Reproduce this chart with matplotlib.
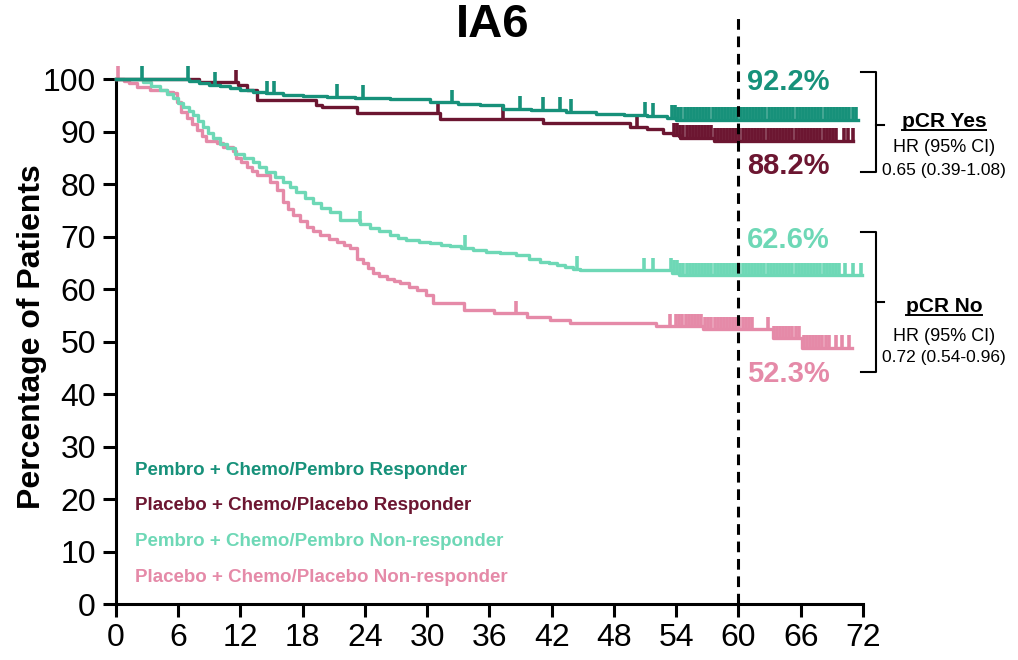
import numpy as np
import matplotlib
matplotlib.use('Agg')
import matplotlib.pyplot as plt
from matplotlib.lines import Line2D

plt.rcParams['font.family'] = ['Liberation Sans', 'DejaVu Sans']

# colours
c_pem_r = '#17917a'
c_pla_r = '#6c1631'
c_pem_n = '#6ed8b6'
c_pla_n = '#e58aa8'

# Pembro + Chemo/Pembro responder (months, % event-free from that month on)
pem_r_t = [0, 7.0, 8.0, 9.0, 10.0, 11.0, 12.0, 13.2, 14.5, 16.1, 18.0, 20.3, 23.0, 26.4,
           30.3, 33.0, 35.1, 37.3, 40.0, 43.4, 46.3, 49.0, 51.2, 53.1, 54.0, 71.5]
pem_r_s = [100, 99.6, 99.2, 98.9, 98.6, 98.3, 98.0, 97.6, 97.3, 97.0, 96.8, 96.6, 96.4, 96.1,
           95.6, 95.3, 95.0, 94.3, 94.1, 93.8, 93.4, 93.2, 93.0, 92.6, 92.2, 92.2]
pem_r_cens = [2.5, 6.9, 9.5, 14.6, 15.2, 21.3, 23.8, 32.4, 38.9, 41.2, 42.8, 43.9, 51.0, 51.8,
              53.6, 53.9, 54.2, 54.5, 54.8, 55.1, 55.4, 55.7, 56.0, 56.3, 56.6, 56.9, 57.2,
              57.5, 57.8, 58.1, 58.4, 58.7, 59.0, 59.3, 59.6, 59.9, 60.2, 60.5, 60.8, 61.1,
              61.4, 61.7, 62.0, 62.3, 62.6, 62.9, 63.2, 63.5, 63.8, 64.1, 64.4, 64.7, 65.0,
              65.3, 65.6, 65.9, 66.2, 66.5, 66.8, 67.1, 67.4, 67.7, 68.0, 68.3, 68.6, 68.9,
              69.2, 69.5, 69.8, 70.1, 70.4, 70.7, 71.0, 71.3]

# Placebo + Chemo/Placebo responder
pla_r_t = [0, 8.0, 11.8, 12.6, 13.6, 19.3, 19.9, 23.2, 31.2, 41.2, 49.5, 51.2, 52.7, 53.7,
           54.4, 57.6, 71.0]
pla_r_s = [100, 99.4, 98.8, 98.0, 96.0, 95.0, 94.7, 93.5, 92.3, 91.7, 90.9, 90.4, 89.8, 89.3,
           88.8, 88.2, 88.2]
pla_r_cens = [11.6, 31.0, 37.3, 50.2,
              53.8, 54.1, 54.4, 54.7, 55.0, 55.3, 55.6, 55.9, 56.2, 56.5, 56.8, 57.1, 57.4,
              57.7, 58.0, 58.3, 58.6, 58.9, 59.2, 59.5, 59.8, 60.1, 60.4, 60.7, 61.0, 61.3,
              61.6, 61.9, 62.2, 62.5, 62.8, 63.1, 63.4, 63.7, 64.0, 64.3, 64.6, 64.9, 65.2,
              65.5, 65.8, 66.1, 66.4, 66.7, 67.0, 67.3, 67.6, 67.9, 68.2, 68.5, 68.8, 69.1,
              69.4, 70.2, 70.6, 71.0]

# Pembro + Chemo/Pembro non-responder
pem_n_t = [0, 2.6, 3.4, 4.2, 4.9, 5.5, 6.0, 6.5, 7.0, 7.4, 7.9, 8.4, 8.9, 9.4, 10.0, 10.7,
           11.5, 12.3, 13.2, 13.8, 14.5, 15.3, 16.1, 16.8, 17.4, 18.2, 19.0, 19.8, 20.6, 21.6,
           23.5, 24.5, 25.4, 26.4, 27.2, 28.0, 29.2, 30.3, 31.3, 32.2, 33.3, 34.4, 35.7, 37.0,
           38.6, 39.8, 40.9, 41.7, 42.5, 43.3, 44.1, 44.7, 53.6, 54.3, 71.9]
pem_n_s = [100, 99.5, 98.7, 97.9, 97.1, 96.3, 95.5, 94.7, 93.9, 93.1, 92.0, 90.9, 89.8, 88.7,
           87.7, 86.8, 85.8, 84.9, 84.2, 83.2, 82.3, 81.3, 80.4, 79.4, 78.5, 77.4, 76.4, 75.5,
           74.7, 73.1, 72.4, 71.6, 71.0, 70.3, 69.8, 69.3, 69.0, 68.7, 68.4, 68.1, 67.8, 67.4,
           67.1, 66.8, 66.5, 65.8, 65.2, 64.9, 64.6, 64.2, 63.9, 63.6, 63.1, 62.6, 62.6]
pem_n_cens = [23.5, 33.6, 44.4, 50.9, 51.8,
              53.5, 53.8, 54.1, 54.4, 54.7, 55.0, 55.3, 55.6, 55.9, 56.2, 56.5, 56.8, 57.1,
              57.4, 57.7, 58.0, 58.3, 58.6, 58.9, 59.2, 59.5, 59.8, 60.1, 60.4, 60.7, 61.0,
              61.3, 61.6, 61.9, 62.2, 62.5, 62.8, 63.1, 63.4, 63.7, 64.0, 64.3, 64.6, 64.9,
              65.2, 65.5, 65.8, 66.1, 66.4, 66.7, 67.0, 67.3, 67.6, 67.9, 68.2, 68.5, 68.8,
              69.1, 69.4, 69.7, 70.3, 71.0, 71.8]

# Placebo + Chemo/Placebo non-responder
pla_n_t = [0, 0.8, 1.3, 2.0, 3.3, 4.9, 5.5, 5.9, 6.3, 6.8, 7.3, 7.8, 8.3, 8.7, 9.7, 10.3,
           11.3, 11.6, 12.1, 12.6, 13.1, 13.6, 14.8, 15.5, 16.1, 16.6, 17.1, 17.7, 18.4, 19.0,
           19.7, 20.5, 21.3, 22.0, 22.6, 23.2, 23.8, 24.3, 24.8, 25.4, 26.1, 26.8, 27.4, 28.2,
           29.0, 29.9, 30.6, 33.5, 36.4, 39.6, 41.8, 43.8, 52.1, 56.6, 63.3, 66.1, 70.9]
pla_n_s = [100, 99.6, 99.2, 98.5, 97.9, 97.6, 97.3, 95.7, 93.8, 92.5, 91.4, 90.3, 89.2, 88.1,
           87.8, 87.1, 86.2, 84.9, 84.1, 83.3, 82.5, 81.7, 80.4, 78.9, 76.6, 75.3, 74.1, 73.0,
           71.9, 71.1, 70.3, 69.6, 69.0, 68.4, 67.8, 65.8, 64.9, 64.0, 63.0, 62.5, 62.0, 61.5,
           61.1, 60.4, 59.8, 58.9, 57.3, 56.0, 55.4, 54.7, 54.1, 53.5, 52.9, 52.3, 50.6, 48.8,
           48.8]
pla_n_cens = [0.2, 38.6, 53.4,
              54.0, 54.3, 54.6, 54.9, 55.2, 55.5, 55.8, 56.1, 56.4,
              56.8, 57.1, 57.4, 57.7, 58.0, 58.3, 58.6, 58.9, 59.2, 59.5, 59.8, 60.1, 60.4,
              60.7, 61.0, 61.3, 62.8,
              63.4, 63.7, 64.0, 64.3, 64.6, 64.9, 65.2, 65.5, 65.8,
              66.3, 66.6, 66.9, 67.2, 67.5, 67.8, 68.1, 68.4, 68.7, 69.4, 70.0, 70.7]

legend_labels = ['Pembro + Chemo/Pembro Responder', 'Placebo + Chemo/Placebo Responder',
                 'Pembro + Chemo/Pembro Non-responder', 'Placebo + Chemo/Placebo Non-responder']
pct_labels = ['92.2%', '88.2%', '62.6%', '52.3%']
x_ticks = list(range(0, 73, 6))
y_ticks = list(range(0, 101, 10))

groups = [
    (pem_r_t, pem_r_s, pem_r_cens, c_pem_r),
    (pla_r_t, pla_r_s, pla_r_cens, c_pla_r),
    (pem_n_t, pem_n_s, pem_n_cens, c_pem_n),
    (pla_n_t, pla_n_s, pla_n_cens, c_pla_n),
]

fig = plt.figure(figsize=(10.18, 6.6), dpi=100)
ax = fig.add_axes([0.1139, 0.0848, 0.7338, 0.7955])

# draw the lighter curves first so the responders sit on top
for t, s, cens, col in groups[::-1]:
    ax.step(t, s, where='post', color=col, lw=2.4, clip_on=False, zorder=3)
    t_arr = np.array(t)
    s_arr = np.array(s)
    idx = np.searchsorted(t_arr, cens, side='right') - 1
    sv = s_arr[idx]
    ax.vlines(cens, sv, sv + 2.4, color=col, lw=2.6, clip_on=False, zorder=3)

# landmark line at 60 months
ax.plot([60, 60], [0, 112.5], color='black', lw=2.2, ls=(0, (3.5, 2.2)), clip_on=False, zorder=4)

ax.set_xlim(0, 72)
ax.set_ylim(0, 100)
ax.set_xticks(x_ticks)
ax.set_yticks(y_ticks)
for side in ['top', 'right']:
    ax.spines[side].set_visible(False)
for side in ['left', 'bottom']:
    ax.spines[side].set_linewidth(2.2)
ax.tick_params(direction='out', length=9.5, width=2.2, labelsize=23, pad=4)
ax.tick_params(axis='y', pad=5)
ax.set_ylabel('Percentage of Patients', fontsize=23, fontweight='bold')
ax.yaxis.set_label_coords(-0.092, 0.51)

fig.text(0.484, 0.962, 'IA6', fontsize=34, fontweight='bold', ha='center', va='center')

# legend as coloured text
leg_y = [25.5, 18.7, 12.0, 5.1]
for lab, yy, (_, _, _, col) in zip(legend_labels, leg_y, groups):
    ax.text(1.8, yy, lab, color=col, fontsize=13.5, fontweight='bold', va='center', ha='left')

# survival rates at 60 months
pct_y = [99.4, 83.4, 69.3, 43.8]
for lab, yy, (_, _, _, col) in zip(pct_labels, pct_y, groups):
    ax.text(60.8, yy, lab, color=col, fontsize=21, fontweight='bold', va='center', ha='left')

# brackets
def bracket(y_top, y_bot, y_mid):
    ax.plot([71.8, 73.3, 73.3, 71.8], [y_top, y_top, y_bot, y_bot], color='black', lw=1.5,
            clip_on=False)
    ax.plot([73.3, 74.0], [y_mid, y_mid], color='black', lw=1.5, clip_on=False)

bracket(101.3, 82.3, 91.2)
bracket(70.9, 44.2, 57.5)

hr_blocks = [
    ('pCR Yes', '0.65 (0.39-1.08)', 92.0, 86.9, 82.5),
    ('pCR No', '0.72 (0.54-0.96)', 56.6, 51.0, 46.9),
]
heads = []
for head, hr, y1, y2, y3 in hr_blocks:
    th = ax.text(79.8, y1, head, fontsize=15, fontweight='bold', ha='center', va='center',
                 clip_on=False)
    heads.append(th)
    ax.text(79.8, y2, 'HR (95% CI)', fontsize=13, ha='center', va='center', clip_on=False)
    ax.text(79.8, y3, hr, fontsize=12.5, ha='center', va='center', clip_on=False)

fig.canvas.draw()
rend = fig.canvas.get_renderer()
for th in heads:
    bb = th.get_window_extent(renderer=rend)
    x0, x1 = bb.x0 / fig.bbox.width, bb.x1 / fig.bbox.width
    yl = (bb.y0 + 1) / fig.bbox.height
    fig.add_artist(Line2D([x0, x1], [yl, yl], color='black', lw=1.4,
                          transform=fig.transFigure))

fig.savefig('out.png', dpi=100)
